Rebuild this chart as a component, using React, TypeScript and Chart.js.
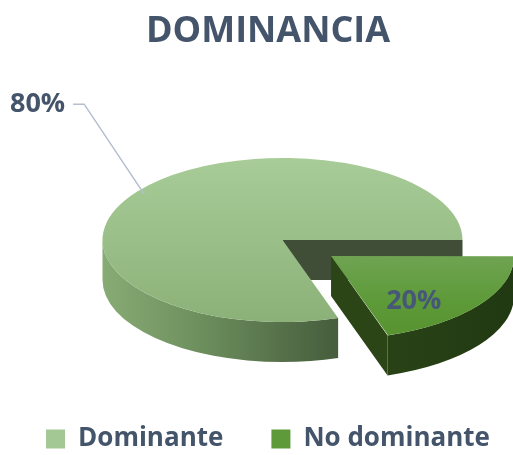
import React, { useEffect, useRef } from 'react';
import { Chart, registerables } from 'chart.js';

Chart.register(...registerables);

// ---- data ----
const categories: string[] = ['Dominante', 'No dominante'];
const values: number[] = [80, 20];
const chartTitle = 'DOMINANCIA';

// ---- styles ----
const TEXT_COLOR = '#44546A';
const legendColors = ['#A3C893', '#5E9A3A'];
const topStops: [number, string][][] = [
  [[0, '#A8CC98'], [1, '#8BB178']],
  [[0, '#6FA352'], [0.55, '#5D9A38'], [1, '#57922F']],
];
const wallStyles = [
  { face: '#404E38', side: [[0, '#88AB75'], [0.27, '#6D8F5D'], [0.55, '#506A45'], [0.7, '#43573A'], [1, '#3A4C32']] as [number, string][] },
  { face: '#2B4517', side: [[0, '#2F4A1B'], [0.6, '#2A4417'], [1, '#213912']] as [number, string][] },
];
const PIE_RADIUS = 180;

const pie3dPlugin = {
  id: 'pie3d',
  beforeDatasetsDraw(chart: any, _args: any, opts: any) {
    const meta = chart.getDatasetMeta(0);
    const ctx: CanvasRenderingContext2D = chart.ctx;
    const k = opts.tilt, depth = opts.depth, sx = opts.shiftX, sy = opts.shiftY;
    const TAU = Math.PI * 2;
    meta.data.forEach((arc: any, i: number) => {
      const p = arc.getProps(['x', 'y', 'startAngle', 'endAngle', 'outerRadius'], true);
      const off = (arc.options.offset || 0) / 4;
      const half = (p.startAngle + p.endAngle) / 2;
      const circ = p.endAngle - p.startAngle;
      const R = p.outerRadius + off * (1 - Math.sin(Math.min(Math.PI, circ)));
      const cx = p.x + Math.cos(half) * off + sx;
      const cy = p.y + sy + Math.sin(half) * off * k;
      const style = wallStyles[i];
      const face = (a: number) => {
        const ex = cx + R * Math.cos(a), ey = cy + R * Math.sin(a) * k;
        ctx.beginPath();
        ctx.moveTo(cx, cy);
        ctx.lineTo(ex, ey);
        ctx.lineTo(ex, ey + depth);
        ctx.lineTo(cx, cy + depth);
        ctx.closePath();
        ctx.fillStyle = style.face;
        ctx.fill();
      };
      if (Math.cos(p.startAngle) < 0) face(p.startAngle);
      if (Math.cos(p.endAngle) > 0) face(p.endAngle);
      const g = ctx.createLinearGradient(cx - R, 0, cx + R, 0);
      style.side.forEach(([t, c]) => g.addColorStop(t, c));
      for (let n = Math.floor(p.startAngle / TAU) - 1; n <= Math.floor(p.endAngle / TAU) + 1; n++) {
        const a1 = Math.max(p.startAngle, n * TAU);
        const a2 = Math.min(p.endAngle, n * TAU + Math.PI);
        if (a2 <= a1) continue;
        ctx.beginPath();
        ctx.ellipse(cx, cy, R, R * k, 0, a1, a2, false);
        ctx.ellipse(cx, cy + depth, R, R * k, 0, a2, a1, true);
        ctx.closePath();
        ctx.fillStyle = g;
        ctx.fill();
      }
      ctx.save();
      ctx.translate(sx, p.y + sy);
      ctx.scale(1, k);
      ctx.translate(0, -p.y);
      arc.draw(ctx);
      ctx.restore();
    });
    return false;
  },
  afterDraw(chart: any, _args: any, opts: any) {
    const meta = chart.getDatasetMeta(0);
    const ctx: CanvasRenderingContext2D = chart.ctx;
    const k = opts.tilt, sx = opts.shiftX, sy = opts.shiftY;
    const data: number[] = chart.data.datasets[0].data;
    const total = data.reduce((a, b) => a + b, 0);
    ctx.save();
    ctx.font = 'bold 27px "Open Sans"';
    ctx.textBaseline = 'middle';
    meta.data.forEach((arc: any, i: number) => {
      const p = arc.getProps(['x', 'y', 'startAngle', 'endAngle', 'outerRadius'], true);
      const off = (arc.options.offset || 0) / 4;
      const half = (p.startAngle + p.endAngle) / 2;
      const R = p.outerRadius;
      const cx = p.x + Math.cos(half) * off + sx;
      const cy = p.y + sy + Math.sin(half) * off * k;
      const text = Math.round((data[i] / total) * 100) + '%';
      const L = opts.labels[i];
      if (L.mode === 'outside') {
        const ax = cx + L.r * R * Math.cos(half);
        const ay = cy + L.r * R * Math.sin(half) * k;
        const exx = ax + L.dx, exy = ay + L.dy;
        ctx.strokeStyle = '#B4BFD0';
        ctx.lineWidth = 1.5;
        ctx.beginPath();
        ctx.moveTo(ax, ay);
        ctx.lineTo(exx, exy);
        ctx.lineTo(exx - L.tail, exy);
        ctx.stroke();
        ctx.fillStyle = TEXT_COLOR;
        ctx.textAlign = 'right';
        ctx.fillText(text, exx - L.tail - 8, exy);
      } else {
        const a = half + L.rot;
        const r = L.r * R;
        ctx.fillStyle = '#465777';
        ctx.textAlign = 'center';
        ctx.fillText(text, cx + r * Math.cos(a), cy + r * Math.sin(a) * k);
      }
    });
    ctx.restore();
  },
};

function makeTopFill(c: any) {
  const chart = c.chart;
  const area = chart.chartArea;
  const i = c.dataIndex ?? 0;
  if (!area) return legendColors[i];
  const cy = (area.top + area.bottom) / 2;
  const g = chart.ctx.createLinearGradient(0, i === 0 ? cy - PIE_RADIUS : cy, 0, cy + PIE_RADIUS);
  topStops[i].forEach(([t, col]) => g.addColorStop(t, col));
  return g;
}

export default function App() {
  const canvasRef = useRef<HTMLCanvasElement | null>(null);
  useEffect(() => {
    if (!canvasRef.current) return;
    Chart.defaults.font.family = '"Open Sans"';
    const chart = new Chart(canvasRef.current, {
      type: 'pie',
      data: {
        labels: categories,
        datasets: [
          {
            data: values,
            backgroundColor: makeTopFill as any,
            borderWidth: 0,
            offset: [0, 240],
          },
        ],
      },
      plugins: [pie3dPlugin as any],
      options: {
        responsive: false,
        animation: false,
        events: [],
        devicePixelRatio: 1,
        rotation: 162,
        radius: PIE_RADIUS,
        layout: { padding: { left: -5, right: -28, top: 0, bottom: -7 } },
        plugins: {
          tooltip: { enabled: false },
          title: {
            display: true,
            text: chartTitle,
            color: TEXT_COLOR,
            font: { family: '"Open Sans"', weight: 'bold', size: 36 },
            padding: { top: 10, bottom: 0 },
          },
          legend: {
            position: 'bottom',
            labels: {
              color: TEXT_COLOR,
              font: { family: '"Open Sans"', weight: 'bold', size: 26 },
              boxWidth: 19,
              boxHeight: 19,
              padding: 48,
              generateLabels: () =>
                categories.map((c, i) => ({
                  text: c,
                  fillStyle: legendColors[i],
                  strokeStyle: legendColors[i],
                  lineWidth: 0,
                  hidden: false,
                  index: i,
                  fontColor: TEXT_COLOR,
                })),
            },
          },
          pie3d: {
            tilt: 0.456,
            depth: 40,
            shiftX: 26,
            shiftY: 24.4,
            labels: [
              { mode: 'outside', r: 0.95, dx: -60, dy: -90, tail: 11 },
              { mode: 'inside', r: 0.72, rot: 0.25 },
            ],
          },
        } as any,
      } as any,
    });
    return () => chart.destroy();
  }, []);
  return (
    <div style={{ position: 'fixed', left: 0, top: 0, width: 513, height: 455, background: '#fff' }}>
      <canvas ref={canvasRef} width={513} height={455} style={{ display: 'block' }} />
    </div>
  );
}
